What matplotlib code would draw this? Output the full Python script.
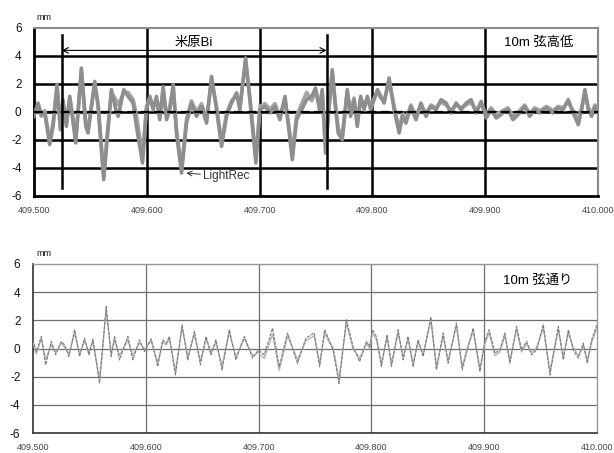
import matplotlib
matplotlib.use("Agg")
import matplotlib.pyplot as plt

plt.rcParams['font.family'] = ['Liberation Sans', 'Noto Sans CJK JP', 'DejaVu Sans']

# --- 10m chord vertical irregularity (高低) ---
top_km = [409.5000, 409.5036, 409.5065, 409.5095, 409.5139, 409.5169, 409.5204, 409.5234,
          409.5257, 409.5287, 409.5317, 409.5340, 409.5370, 409.5420, 409.5459, 409.5479,
          409.5538, 409.5568, 409.5618, 409.5648, 409.5686, 409.5725, 409.5746, 409.5796,
          409.5834, 409.5879, 409.5908, 409.5962, 409.5997, 409.6027, 409.6056, 409.6086,
          409.6115, 409.6145, 409.6175, 409.6204, 409.6234, 409.6263, 409.6308, 409.6352,
          409.6396, 409.6441, 409.6485, 409.6530, 409.6574, 409.6618, 409.6663, 409.6707,
          409.6751, 409.6796, 409.6825, 409.6876, 409.6914, 409.6967, 409.7003, 409.7047,
          409.7092, 409.7136, 409.7180, 409.7225, 409.7263, 409.7290, 409.7328, 409.7373,
          409.7417, 409.7462, 409.7496, 409.7531, 409.7555, 409.7585, 409.7614, 409.7644,
          409.7674, 409.7697, 409.7733, 409.7777, 409.7807, 409.7837, 409.7866, 409.7896,
          409.7926, 409.7955, 409.7985, 409.8015, 409.8045, 409.8074, 409.8104, 409.8148,
          409.8193, 409.8237, 409.8267, 409.8297, 409.8341, 409.8386, 409.8430, 409.8475,
          409.8519, 409.8564, 409.8608, 409.8653, 409.8697, 409.8742, 409.8786, 409.8831,
          409.8875, 409.8920, 409.8964, 409.9009, 409.9053, 409.9098, 409.9157, 409.9202,
          409.9246, 409.9306, 409.9350, 409.9395, 409.9439, 409.9484, 409.9543, 409.9602,
          409.9647, 409.9691, 409.9736, 409.9780, 409.9825, 409.9855, 409.9884, 409.9914,
          409.9944, 409.9973, 410.0000]
top_a = [-0.31, 0.64, -0.19, -0.07, -2.33, -1.02, 1.95, -1.26,
         0.88, -1.02, 1.12, -0.31, -2.21, 3.14, -1.02, -1.50,
         2.19, 0.40, -4.83, -1.98, 1.60, 0.17, -0.31, 1.60,
         1.12, 0.64, -1.02, -3.64, 0.17, 1.12, 0.17, 1.12,
         -0.55, 1.83, -0.55, 0.17, 1.95, -1.50, -4.36, -0.79,
         0.64, -0.31, 0.40, -0.79, 2.55, 0.17, -2.45, -0.31,
         0.64, 1.36, 0.17, 3.86, 0.88, -3.64, 0.17, 0.40,
         -0.07, 0.40, -0.55, 1.12, -1.50, -3.40, -0.55, 0.17,
         0.88, 1.12, 1.71, 0.17, 1.60, -2.93, 0.17, 3.02,
         0.17, -1.50, -1.98, 1.60, -0.31, 0.88, -1.02, 1.12,
         0.17, 1.12, 0.17, 0.88, 1.60, 1.12, 0.64, 2.43,
         0.17, -1.50, -0.31, -0.79, 0.40, -0.55, 0.64, -0.31,
         0.40, 0.17, 0.88, 0.64, -0.07, 0.64, 0.17, 0.64,
         0.88, -0.07, 0.76, -0.43, 0.17, -0.43, -0.07, 0.17,
         -0.55, -0.07, 0.40, -0.31, 0.17, -0.07, 0.29, -0.07,
         0.29, 0.17, 0.88, -0.07, -0.90, 0.17, 1.60, 0.17,
         -0.31, 0.40, -0.07]
top_b = [-0.10, 0.40, -0.30, 0.10, -2.00, -0.80, 1.80, -1.00,
         0.70, -0.80, 1.00, -0.10, -1.90, 2.90, -0.80, -1.30,
         2.00, 0.60, -4.50, -1.70, 1.40, 0.90, 0.50, 1.40,
         1.40, 0.90, -0.20, -3.20, 0.40, 1.00, 0.40, 0.90,
         -0.30, 1.60, -0.30, 0.40, 1.70, -1.20, -4.00, -0.50,
         0.80, 0.00, 0.60, -0.50, 2.30, 0.40, -2.10, -0.10,
         0.80, 1.20, 0.40, 3.60, 1.00, -3.30, 0.40, 0.60,
         0.20, 0.60, -0.30, 0.90, -1.20, -3.00, -0.30, 0.60,
         1.40, 0.80, 1.50, 0.40, 1.40, -2.60, 0.40, 2.80,
         0.40, -1.20, -1.70, 1.40, -0.10, 1.00, -0.80, 1.00,
         0.40, 1.00, 0.40, 1.00, 1.40, 1.00, 0.80, 2.20,
         0.40, -1.30, -0.10, -0.60, 0.50, -0.30, 0.50, -0.10,
         0.50, 0.30, 0.70, 0.50, 0.10, 0.50, 0.30, 0.50,
         0.70, 0.10, 0.60, -0.20, 0.30, -0.20, 0.10, 0.30,
         -0.30, 0.10, 0.50, -0.10, 0.30, 0.10, 0.40, 0.10,
         0.40, 0.30, 0.70, 0.10, -0.60, 0.30, 1.40, 0.30,
         -0.10, 0.50, 0.10]

# --- 10m chord alignment (通り) ---
bot_km = [409.5000, 409.5029, 409.5074, 409.5112, 409.5162, 409.5201, 409.5251, 409.5280,
          409.5319, 409.5369, 409.5413, 409.5457, 409.5496, 409.5531, 409.5590, 409.5649,
          409.5693, 409.5723, 409.5767, 409.5841, 409.5885, 409.5944, 409.5988, 409.6047,
          409.6106, 409.6150, 409.6180, 409.6209, 409.6263, 409.6322, 409.6372, 409.6431,
          409.6484, 409.6534, 409.6578, 409.6622, 409.6676, 409.6740, 409.6799, 409.6873,
          409.6947, 409.6997, 409.7050, 409.7124, 409.7183, 409.7257, 409.7345, 409.7419,
          409.7493, 409.7541, 409.7586, 409.7624, 409.7660, 409.7713, 409.7778, 409.7837,
          409.7896, 409.7956, 409.7985, 409.8009, 409.8044, 409.8089, 409.8139, 409.8178,
          409.8237, 409.8281, 409.8325, 409.8370, 409.8414, 409.8459, 409.8527, 409.8577,
          409.8636, 409.8680, 409.8754, 409.8805, 409.8843, 409.8902, 409.8962, 409.9006,
          409.9044, 409.9095, 409.9139, 409.9183, 409.9228, 409.9287, 409.9331, 409.9376,
          409.9420, 409.9464, 409.9524, 409.9583, 409.9657, 409.9701, 409.9746, 409.9790,
          409.9834, 409.9879, 409.9914, 409.9953, 410.0000]
bot_a = [0.62, -0.21, 0.86, -1.17, 0.50, -0.45, 0.50, 0.26,
         -0.57, 1.33, -0.57, 0.74, -0.45, 0.67, -2.48, 3.00,
         -0.57, 0.86, -0.81, 0.86, -0.81, 0.62, -0.21, 0.69,
         -1.29, 0.62, 0.38, 0.86, -1.88, 1.69, -0.81, 1.21,
         -1.17, 0.86, -0.45, 0.62, -1.52, 1.33, -0.81, 0.86,
         -0.69, -0.10, -0.45, 1.45, -1.29, 1.10, -1.05, 0.74,
         1.10, -1.30, 1.33, 0.62, -0.10, -2.48, 2.05, 0.14,
         -0.93, 0.50, 0.14, 1.33, 0.86, -1.29, 0.98, -1.29,
         1.33, -0.81, 0.86, -1.29, 0.62, -0.57, 2.24, -1.52,
         1.10, -1.05, 1.81, -1.52, -0.33, 1.45, -1.64, 0.50,
         1.33, -0.33, -0.10, 1.10, -1.05, 1.57, -0.10, 0.50,
         -0.45, -0.10, 1.69, -1.88, 1.57, -0.81, 1.33, -0.10,
         -0.69, 0.38, -1.05, 0.62, 1.69]
bot_b = [0.40, -0.40, 0.70, -0.80, 0.30, -0.30, 0.40, 0.10,
         -0.40, 1.10, -0.40, 0.55, -0.30, 0.50, -2.20, 2.70,
         -0.30, 0.60, -0.50, 0.60, -0.50, 0.40, -0.05, 0.55,
         -1.00, 0.45, 0.25, 0.70, -1.60, 1.50, -0.60, 1.00,
         -0.90, 0.70, -0.30, 0.45, -1.25, 1.15, -0.60, 0.70,
         -0.50, -0.30, -0.70, 1.00, -1.55, 0.90, -0.80, 0.55,
         0.90, -1.05, 1.10, 0.45, 0.10, -2.20, 1.80, 0.00,
         -0.70, 0.35, 0.00, 1.10, 0.65, -1.05, 0.80, -1.05,
         1.10, -0.60, 0.65, -1.05, 0.45, -0.40, 2.00, -1.30,
         0.90, -0.85, 1.60, -1.30, -0.15, 1.25, -1.40, 0.35,
         1.10, -0.50, -0.25, 0.90, -0.85, 1.35, -0.25, 0.35,
         -0.30, 0.05, 1.45, -1.60, 1.35, -0.60, 1.10, 0.05,
         -0.50, 0.20, -0.85, 0.45, 1.45]

x_ticks = [409.5, 409.6, 409.7, 409.8, 409.9, 410.0]
x_labels = ['409.500', '409.600', '409.700', '409.800', '409.900', '410.000']
y_ticks = [-6, -4, -2, 0, 2, 4, 6]

section_start, section_end = 409.5245, 409.7595
trough_km, trough_mm = 409.6350, -4.36

fig = plt.figure(figsize=(6.14, 4.53), dpi=100)
ax1 = fig.add_axes([34 / 614, 1 - 196 / 453, 564 / 614, 168 / 453])
ax2 = fig.add_axes([33 / 614, 1 - 433 / 453, 564 / 614, 169 / 453])


def setup(ax, grid_color, grid_lw, dark_spine, dark_lw, light_spine, light_lw):
    ax.set_xlim(409.5, 410.0)
    ax.set_ylim(-6, 6)
    ax.set_xticks(x_ticks)
    ax.set_xticklabels(x_labels, fontsize=6.5, color='#444444')
    ax.set_yticks(y_ticks)
    ax.set_yticklabels([str(v) for v in y_ticks], fontsize=8.5, color='#111111')
    ax.tick_params(axis='both', length=0)
    ax.tick_params(axis='x', pad=7)
    ax.tick_params(axis='y', pad=9)
    for v in x_ticks[1:-1]:
        ax.axvline(v, color=grid_color, lw=grid_lw, zorder=1)
    for v in y_ticks[1:-1]:
        ax.axhline(v, color=grid_color, lw=grid_lw, zorder=1)
    for s in ('left', 'bottom'):
        ax.spines[s].set_color(dark_spine)
        ax.spines[s].set_linewidth(dark_lw)
    for s in ('top', 'right'):
        ax.spines[s].set_color(light_spine)
        ax.spines[s].set_linewidth(light_lw)


setup(ax1, 'black', 1.8, 'black', 2.0, '#8a8a8a', 1.5)
setup(ax2, '#6e6e6e', 0.9, '#333333', 1.2, '#9a9a9a', 1.0)

# top panel traces
ax1.plot(top_km, top_b, color='#a6a6a6', lw=2.6, solid_joinstyle='round', zorder=3)
ax1.plot(top_km, top_a, color='#8e8e8e', lw=2.6, solid_joinstyle='round', zorder=4)
ax1.axhline(0, color='black', lw=1.6, ls=(0, (4, 2)), zorder=5)

# section markers and span
for v in (section_start, section_end):
    ax1.plot([v, v], [-5.45, 5.5], color='black', lw=1.8, zorder=5)
ax1.annotate('', xy=(section_end, 4.4), xytext=(section_start, 4.4),
             arrowprops=dict(arrowstyle='<->', color='black', lw=0.8,
                             shrinkA=0, shrinkB=0), zorder=6)
ax1.text((section_start + section_end) / 2, 4.95, '米原Bi', fontsize=9.5,
         ha='center', va='center', color='black', zorder=6)
ax1.annotate('LightRec', xy=(trough_km, trough_mm), xytext=(409.650, -4.6),
             fontsize=8.5, color='#333333', va='center', ha='left',
             arrowprops=dict(arrowstyle='->', color='#333333', lw=0.7,
                             shrinkA=0, shrinkB=0), zorder=6)
ax1.text(409.917, 4.95, '10m 弦高低', fontsize=9.5, va='center', ha='left',
         color='black', zorder=6)

# bottom panel traces
ax2.plot(bot_km, bot_b, color='#b4b4b4', lw=1.0, zorder=3)
ax2.plot(bot_km, bot_a, color='#7c7c7c', lw=0.8, ls=(0, (3, 1)), zorder=4)
ax2.text(409.917, 4.85, '10m 弦通り', fontsize=9.5, va='center', ha='left',
         color='black', zorder=6)

fig.text(36 / 614, 1 - 17 / 453, 'mm', fontsize=6.5, va='center', ha='left', color='#111111')
fig.text(36 / 614, 1 - 254 / 453, 'mm', fontsize=6.5, va='center', ha='left', color='#111111')

fig.savefig('out.png', dpi=100, facecolor='white')
